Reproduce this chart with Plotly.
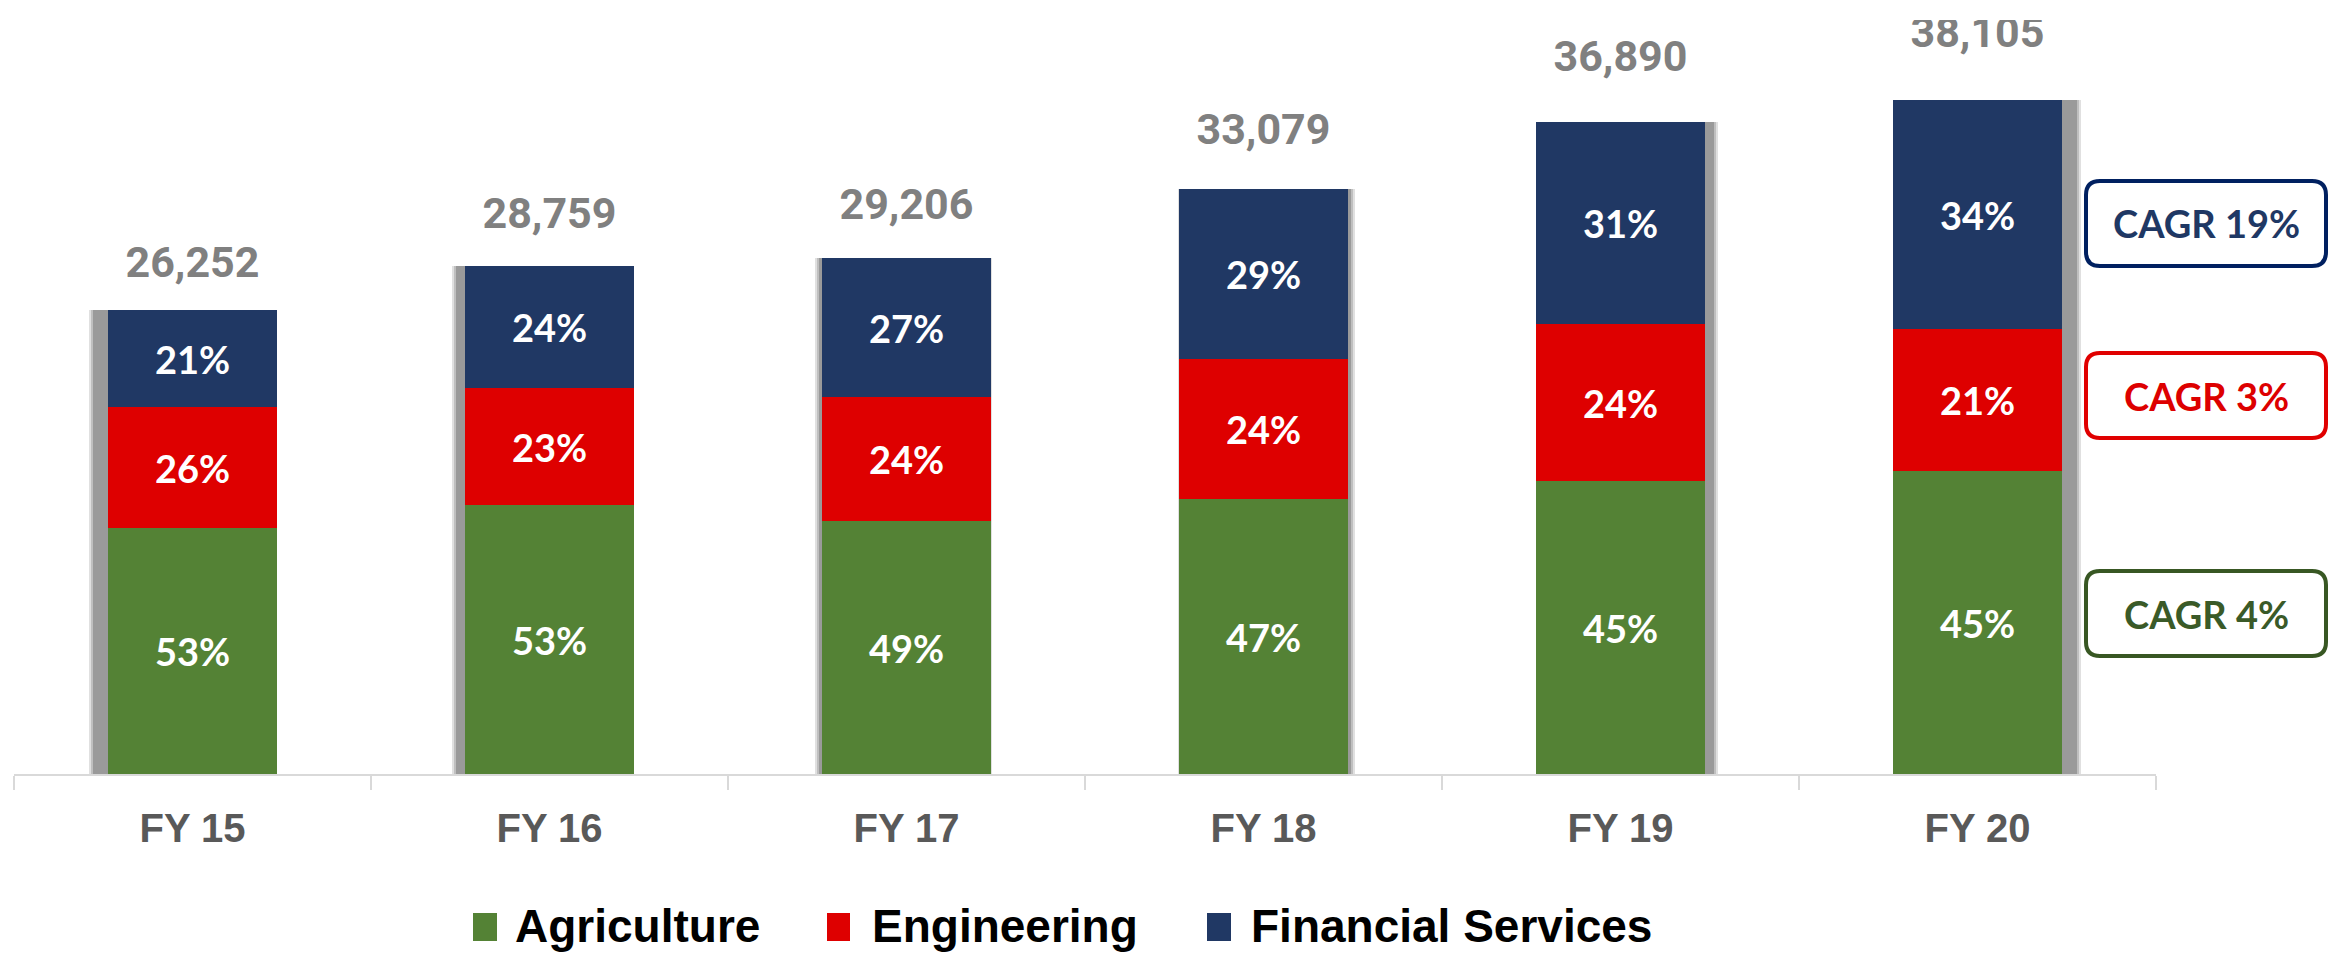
import plotly.graph_objects as go

# ---------------- data ----------------
years = ["FY 15", "FY 16", "FY 17", "FY 18", "FY 19", "FY 20"]
totals = [26252, 28759, 29206, 33079, 36890, 38105]
agri_pct = [53, 53, 49, 47, 45, 45]
eng_pct = [26, 23, 24, 24, 24, 21]
fin_pct = [21, 24, 27, 29, 31, 34]
series_names = ["Agriculture", "Engineering", "Financial Services"]
cagr_labels = ["CAGR 19%", "CAGR 3%", "CAGR 4%"]  # Financial, Engineering, Agriculture

# ---------------- style ----------------
W, H = 2331, 953
ML, MR, MT, MB = 14, 175, 20, 179
PW, PH = W - ML - MR, H - MT - MB
YMAX = 42646
GREEN, RED, BLUE = "#548235", "#DE0000", "#203864"
BAR_W = 0.476
cat_px = PW / len(years)

def px_x(px):
    return (px - ML) / PW

def px_y(py):
    return (H - MB - py) / PH

agri = [t * p / 100 for t, p in zip(totals, agri_pct)]
eng = [t * p / 100 for t, p in zip(totals, eng_pct)]
fin = [t * p / 100 for t, p in zip(totals, fin_pct)]
eng_base = agri
fin_base = [a + e for a, e in zip(agri, eng)]

fig = go.Figure()

# soft shadows (light from centre)
n = len(years)
shift_px = [(i - (n - 1) / 2) * 6 for i in range(n)]
for extra, alpha in [(4, 0.25), (2, 0.35), (0, 0.6)]:
    fig.add_trace(go.Bar(
        x=years, y=totals, base=[0] * n,
        width=[BAR_W + 2 * extra / cat_px] * n,
        offset=[-BAR_W / 2 - extra / cat_px + s / cat_px for s in shift_px],
        marker=dict(color=f"rgba(130,130,130,{alpha})", line=dict(width=0)),
        showlegend=False, hoverinfo="skip"))

pct_font = dict(family="Lato, Roboto, sans-serif", size=38, color="white", weight=700)
for name, vals, base, pct, col in [
    (series_names[0], agri, [0] * n, agri_pct, GREEN),
    (series_names[1], eng, eng_base, eng_pct, RED),
    (series_names[2], fin, fin_base, fin_pct, BLUE),
]:
    fig.add_trace(go.Bar(
        name=name, x=years, y=vals, base=base, width=[BAR_W] * n,
        marker=dict(color=col, line=dict(width=0)),
        text=[f"{p}%" for p in pct], textposition="inside",
        insidetextanchor="middle", textangle=0, textfont=pct_font,
        constraintext="none", showlegend=False))

# totals above bars
fig.add_trace(go.Scatter(
    x=years, y=[t * 1.095 for t in totals], mode="text",
    text=[f"{t:,}" for t in totals], textposition="middle center",
    textfont=dict(family="Roboto, sans-serif", size=43, color="#808080", weight=700),
    showlegend=False, hoverinfo="skip"))

# ---------------- CAGR boxes ----------------
def rrect(x0, y0, x1, y1, r=14):
    rx, ry = r / PW, r / PH
    return (f"M {x0+rx},{y0} L {x1-rx},{y0} Q {x1},{y0} {x1},{y0+ry} "
            f"L {x1},{y1-ry} Q {x1},{y1} {x1-rx},{y1} L {x0+rx},{y1} "
            f"Q {x0},{y1} {x0},{y1-ry} L {x0},{y0+ry} Q {x0},{y0} {x0+rx},{y0} Z")

shapes = []
annotations = []
boxes = [  # (top px, bottom px, border, text colour)
    (181, 266, "#002060", "#1F3864"),
    (353, 438, "#E00000", "#DD0000"),
    (571, 656, "#385723", "#3A5A28"),
]
bx0, bx1 = px_x(2086), px_x(2326)
for lab, (t, b, bc, tc) in zip(cagr_labels, boxes):
    shapes.append(dict(type="path", xref="paper", yref="paper",
                       path=rrect(bx0, px_y(b), bx1, px_y(t)),
                       line=dict(color=bc, width=4), fillcolor="white", layer="above"))
    annotations.append(dict(xref="paper", yref="paper", x=(bx0 + bx1) / 2,
                            y=px_y((t + b) / 2), text=lab, showarrow=False,
                            xanchor="center", yanchor="middle",
                            font=dict(family="Lato, Roboto, sans-serif", size=38,
                                      color=tc, weight=700)))

# ---------------- legend (drawn) ----------------
leg = [(473, 497, 513, GREEN), (827, 850, 870, RED), (1207, 1231, 1249, BLUE)]
for name, (s0, s1, tx, col) in zip(series_names, leg):
    shapes.append(dict(type="rect", xref="paper", yref="paper",
                       x0=px_x(s0), x1=px_x(s1), y0=px_y(941), y1=px_y(913),
                       fillcolor=col, line=dict(width=0)))
    annotations.append(dict(xref="paper", yref="paper", x=px_x(tx), y=px_y(926),
                            text=name, showarrow=False, xanchor="left", yanchor="middle",
                            font=dict(family="Liberation Sans, Arial, sans-serif",
                                      size=46, color="black", weight=700)))

fig.update_layout(
    width=W, height=H, barmode="overlay", bargap=0,
    margin=dict(l=ML, r=MR, t=MT, b=MB, autoexpand=False),
    paper_bgcolor="white", plot_bgcolor="white",
    showlegend=False, shapes=shapes, annotations=annotations,
    xaxis=dict(type="category", range=[-0.5, n - 0.5], showline=True,
               linecolor="#D9D9D9", linewidth=2, ticks="outside",
               tickson="boundaries", ticklen=14, tickcolor="#D9D9D9", tickwidth=2,
               showgrid=False, zeroline=False, ticklabelstandoff=18,
               tickfont=dict(family="Liberation Sans, Arial, sans-serif", size=40,
                             color="#595959", weight=700)),
    yaxis=dict(range=[0, YMAX], visible=False, showgrid=False, zeroline=False),
)

fig.write_html("out.html", config={"displayModeBar": False},
               post_script="document.body.style.margin='0px';document.body.style.overflow='hidden';")
